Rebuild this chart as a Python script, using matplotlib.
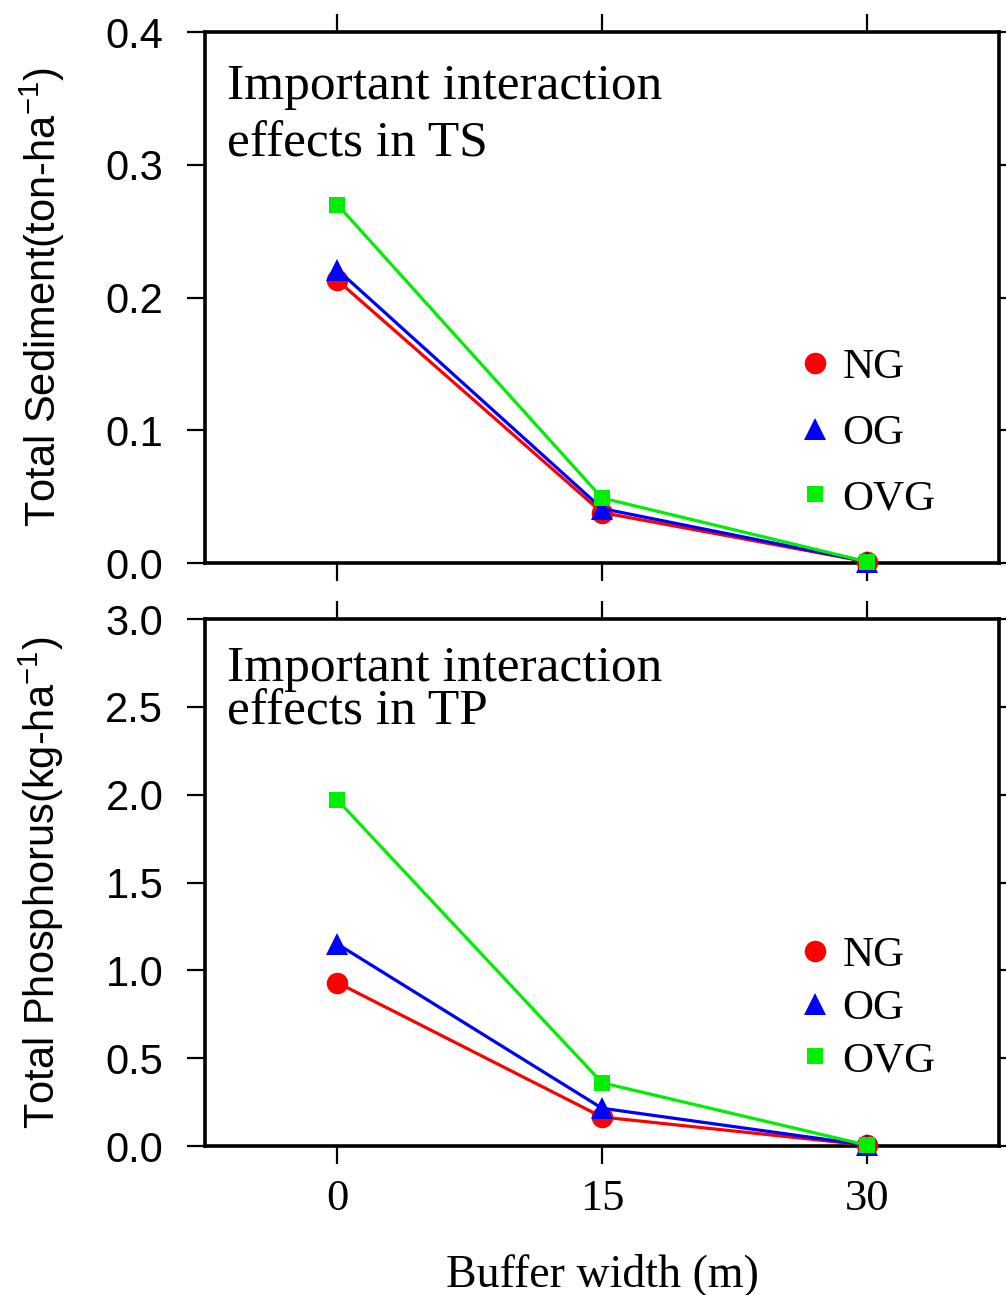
import matplotlib
matplotlib.use("Agg")
import matplotlib.pyplot as plt
from matplotlib.lines import Line2D

# buffer widths (m)
buffer_width = [0, 15, 30]

# total sediment (ton/ha)
ts_ng = [0.213, 0.038, 0.001]
ts_og = [0.221, 0.041, 0.001]
ts_ovg = [0.270, 0.049, 0.001]

# total phosphorus (kg/ha)
tp_ng = [0.93, 0.165, 0.005]
tp_og = [1.15, 0.215, 0.005]
tp_ovg = [1.97, 0.36, 0.005]

series_names = ["NG", "OG", "OVG"]
colors = ["#ff0000", "#0000ff", "#00ee00"]
markers = ["o", "^", "s"]
msizes = [15.5, 16, 11]

serif = "Liberation Serif"
sans = "Liberation Sans"
plt.rcParams["mathtext.fontset"] = "custom"
plt.rcParams["mathtext.rm"] = sans
plt.rcParams["mathtext.sf"] = sans

fig = plt.figure(figsize=(10.06, 12.95), dpi=100)
W, H = 1006, 1295
ax1 = fig.add_axes([205 / W, 1 - 563 / H, 794 / W, 531 / H])
ax2 = fig.add_axes([205 / W, 1 - 1146 / H, 794 / W, 527 / H])


def draw(ax, data, ylim, yticks, ylabel, note, note_y, note_gap, leg_y, leg_space):
    for vals, c, m, ms, name in zip(data, colors, markers, msizes, series_names):
        ax.plot(buffer_width, vals, color=c, lw=2.3, marker=m, ms=ms,
                mec=c, mfc=c, mew=0, label=name, clip_on=False, zorder=3)
    ax.set_xlim(-7.5, 37.5)
    ax.set_ylim(*ylim)
    ax.set_xticks(buffer_width)
    ax.set_yticks(yticks)
    ax.set_yticklabels([f"{t:.1f}" for t in yticks], family=sans, fontsize=30)
    ax.tick_params(direction="out", length=13, width=1.6,
                   top=True, right=True, bottom=True, left=True)
    ax.tick_params(axis="y", pad=17)
    for sp in ax.spines.values():
        sp.set_linewidth(2.6)
    ax.set_ylabel(ylabel, family=sans, fontsize=30, labelpad=28)
    # va="baseline" pins the last line's baseline
    ax.text(0.028, note_y, note, transform=ax.transAxes, family=serif,
            fontsize=37, va="baseline", ha="left", linespacing=note_gap)
    handles = [Line2D([], [], ls="none", marker=m, ms=ms, color=c, mew=0)
               for c, m, ms in zip(colors, markers, msizes)]
    ax.legend(handles, series_names, loc="upper left",
              bbox_to_anchor=(0.73, leg_y), frameon=False,
              prop={"family": serif, "size": 31}, handlelength=0.6,
              handletextpad=0.35, labelspacing=leg_space, borderaxespad=0)


draw(ax1, [ts_ng, ts_og, ts_ovg], (0, 0.4), [0.0, 0.1, 0.2, 0.3, 0.4],
     "Total Sediment(ton-ha$^{\\mathsf{-1}}$)",
     "Important interaction\neffects in TS", 0.765, 1.31, 0.437, 0.615)
ax1.tick_params(labelbottom=False)

draw(ax2, [tp_ng, tp_og, tp_ovg], (0, 3.0), [0.0, 0.5, 1.0, 1.5, 2.0, 2.5, 3.0],
     "Total Phosphorus(kg-ha$^{\\mathsf{-1}}$)",
     "Important interaction\neffects in TP", 0.799, 0.92, 0.431, 0.31)
ax2.set_xticklabels([str(b) for b in buffer_width], family=serif, fontsize=32)
ax2.tick_params(axis="x", pad=11)
ax2.set_xlabel("Buffer width (m)", family=serif, fontsize=33, labelpad=24)

fig.savefig("out.png", dpi=100)
